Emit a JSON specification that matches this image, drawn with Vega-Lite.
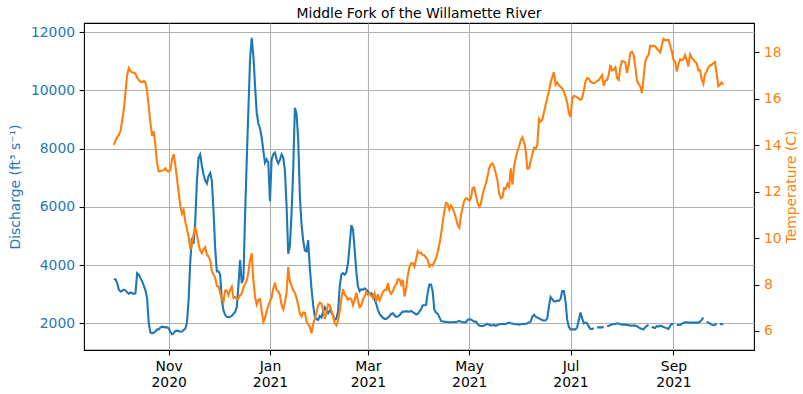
{
 "$schema": "https://vega.github.io/schema/vega-lite/v6.json",
 "width": 670, "height": 327,
 "autosize": {"type": "none"},
 "padding": {"left": 84, "top": 23, "right": 49, "bottom": 44},
 "background": "white",
 "config": {
   "font": "DejaVu Sans",
   "view": {"stroke": "black", "strokeWidth": 1.1},
   "axis": {"domain": false, "grid": false, "tickColor": "black", "tickSize": 4.9, "tickWidth": 1.1, "labelPadding": 4.5, "labelFontSize": 13.9, "titleFontSize": 13.9, "titleFontWeight": "normal", "gridColor": "#b0b0b0", "gridWidth": 1.1, "labelFont": "DejaVu Sans", "titleFont": "DejaVu Sans"},
   "title": {"fontSize": 13.9, "fontWeight": "normal", "font": "DejaVu Sans", "color": "black"}
 },
 "title": {"text": "Middle Fork of the Willamette River", "anchor": "middle", "offset": 5, "baseline": "alphabetic", "dy": 14},
 "data": {"values": [
{"date":"2020-09-29","q":3520,"t":14.02},{"date":"2020-09-30","q":3505,"t":14.21},{"date":"2020-10-01","q":3380,"t":14.35},{"date":"2020-10-02","q":3150,"t":14.44},{"date":"2020-10-03","q":3090,"t":14.62},{"date":"2020-10-04","q":3115,"t":15.07},{"date":"2020-10-05","q":3150,"t":15.56},{"date":"2020-10-06","q":3130,"t":16.28},{"date":"2020-10-07","q":3060,"t":17.04},{"date":"2020-10-08","q":3010,"t":17.33},{"date":"2020-10-09","q":3060,"t":17.2},{"date":"2020-10-10","q":3030,"t":17.14},{"date":"2020-10-11","q":3010,"t":17.14},{"date":"2020-10-12","q":3030,"t":17.08},{"date":"2020-10-13","q":3720,"t":16.91},{"date":"2020-10-14","q":3670,"t":16.82},{"date":"2020-10-15","q":3550,"t":16.74},{"date":"2020-10-16","q":3440,"t":16.72},{"date":"2020-10-17","q":3290,"t":16.77},{"date":"2020-10-18","q":3130,"t":16.71},{"date":"2020-10-19","q":2860,"t":16.32},{"date":"2020-10-20","q":2000,"t":15.67},{"date":"2020-10-21","q":1680,"t":14.96},{"date":"2020-10-22","q":1655,"t":14.41},{"date":"2020-10-23","q":1680,"t":14.6},{"date":"2020-10-24","q":1710,"t":14.0},{"date":"2020-10-25","q":1790,"t":13.23},{"date":"2020-10-26","q":1790,"t":12.87},{"date":"2020-10-27","q":1850,"t":12.89},{"date":"2020-10-28","q":1885,"t":12.91},{"date":"2020-10-29","q":1875,"t":12.93},{"date":"2020-10-30","q":1860,"t":13.01},{"date":"2020-10-31","q":1860,"t":12.91},
{"date":"2020-11-01","q":1830,"t":12.87},{"date":"2020-11-02","q":1710,"t":12.94},{"date":"2020-11-03","q":1620,"t":13.37},{"date":"2020-11-04","q":1655,"t":13.62},{"date":"2020-11-05","q":1735,"t":13.16},{"date":"2020-11-06","q":1747,"t":12.58},{"date":"2020-11-07","q":1735,"t":11.97},{"date":"2020-11-08","q":1710,"t":11.39},{"date":"2020-11-09","q":1720,"t":11.05},{"date":"2020-11-10","q":1770,"t":11.22},{"date":"2020-11-11","q":1815,"t":10.71},{"date":"2020-11-12","q":2030,"t":10.38},{"date":"2020-11-13","q":2800,"t":10.07},{"date":"2020-11-14","q":4130,"t":9.52},{"date":"2020-11-15","q":4930,"t":9.71},{"date":"2020-11-16","q":4730,"t":10.18},{"date":"2020-11-17","q":5500,"t":10.47},{"date":"2020-11-18","q":6880,"t":10.17},{"date":"2020-11-19","q":7690,"t":9.75},{"date":"2020-11-20","q":7800,"t":9.46},{"date":"2020-11-21","q":7400,"t":9.35},{"date":"2020-11-22","q":7110,"t":9.52},{"date":"2020-11-23","q":6905,"t":9.61},{"date":"2020-11-24","q":6800,"t":9.28},{"date":"2020-11-25","q":7055,"t":9.21},{"date":"2020-11-26","q":7160,"t":9.05},{"date":"2020-11-27","q":6900,"t":8.58},{"date":"2020-11-28","q":5850,"t":8.43},{"date":"2020-11-29","q":4580,"t":8.29},{"date":"2020-11-30","q":3780,"t":7.94},
{"date":"2020-12-01","q":3780,"t":7.91},{"date":"2020-12-02","q":3670,"t":7.65},{"date":"2020-12-03","q":2800,"t":7.37},{"date":"2020-12-04","q":2440,"t":7.26},{"date":"2020-12-05","q":2290,"t":7.74},{"date":"2020-12-06","q":2220,"t":7.74},{"date":"2020-12-07","q":2210,"t":7.54},{"date":"2020-12-08","q":2220,"t":7.77},{"date":"2020-12-09","q":2250,"t":7.91},{"date":"2020-12-10","q":2320,"t":7.42},{"date":"2020-12-11","q":2390,"t":7.47},{"date":"2020-12-12","q":2550,"t":7.37},{"date":"2020-12-13","q":3300,"t":7.39},{"date":"2020-12-14","q":4180,"t":7.54},{"date":"2020-12-15","q":3380,"t":7.61},{"date":"2020-12-16","q":3530,"t":7.87},{"date":"2020-12-17","q":5680,"t":8.03},{"date":"2020-12-18","q":7570,"t":8.17},{"date":"2020-12-19","q":9320,"t":8.52},{"date":"2020-12-20","q":11050,"t":9.06},{"date":"2020-12-21","q":11800,"t":9.35},{"date":"2020-12-22","q":11190,"t":8.2},{"date":"2020-12-23","q":10160,"t":7.48},{"date":"2020-12-24","q":9240,"t":7.14},{"date":"2020-12-25","q":8860,"t":7.34},{"date":"2020-12-26","q":8690,"t":7.37},{"date":"2020-12-27","q":8380,"t":6.88},{"date":"2020-12-28","q":7920,"t":6.39},{"date":"2020-12-29","q":7515,"t":6.56},{"date":"2020-12-30","q":7630,"t":6.85},{"date":"2020-12-31","q":7515,"t":7.08},
{"date":"2021-01-01","q":6190,"t":7.29},{"date":"2021-01-02","q":7630,"t":7.45},{"date":"2021-01-03","q":7800,"t":7.83},{"date":"2021-01-04","q":7860,"t":8.08},{"date":"2021-01-05","q":7630,"t":7.75},{"date":"2021-01-06","q":7490,"t":7.71},{"date":"2021-01-07","q":7610,"t":7.55},{"date":"2021-01-08","q":7800,"t":7.12},{"date":"2021-01-09","q":7690,"t":6.93},{"date":"2021-01-10","q":7230,"t":7.22},{"date":"2021-01-11","q":6020,"t":7.65},{"date":"2021-01-12","q":4390,"t":8.75},{"date":"2021-01-13","q":4640,"t":8.13},{"date":"2021-01-14","q":5790,"t":7.94},{"date":"2021-01-15","q":7290,"t":7.74},{"date":"2021-01-16","q":9400,"t":7.65},{"date":"2021-01-17","q":9200,"t":7.41},{"date":"2021-01-18","q":8320,"t":7.12},{"date":"2021-01-19","q":6370,"t":6.76},{"date":"2021-01-20","q":5390,"t":6.62},{"date":"2021-01-21","q":4850,"t":6.8},{"date":"2021-01-22","q":4500,"t":6.78},{"date":"2021-01-23","q":4470,"t":6.4},{"date":"2021-01-24","q":4850,"t":6.3},{"date":"2021-01-25","q":3900,"t":6.16},{"date":"2021-01-26","q":3200,"t":5.9},{"date":"2021-01-27","q":2630,"t":6.3},{"date":"2021-01-28","q":2230,"t":6.53},{"date":"2021-01-29","q":2140,"t":6.8},{"date":"2021-01-30","q":2115,"t":7.1},{"date":"2021-01-31","q":2250,"t":7.22},
{"date":"2021-02-01","q":2195,"t":7.18},{"date":"2021-02-02","q":2400,"t":6.93},{"date":"2021-02-03","q":2550,"t":6.52},{"date":"2021-02-04","q":2440,"t":6.79},{"date":"2021-02-05","q":2345,"t":7.15},{"date":"2021-02-06","q":2440,"t":7.11},{"date":"2021-02-07","q":2380,"t":6.86},{"date":"2021-02-08","q":2260,"t":6.68},{"date":"2021-02-09","q":2115,"t":6.33},{"date":"2021-02-10","q":2160,"t":6.24},{"date":"2021-02-11","q":2400,"t":6.45},{"date":"2021-02-12","q":3260,"t":6.86},{"date":"2021-02-13","q":3670,"t":7.37},{"date":"2021-02-14","q":3720,"t":7.8},{"date":"2021-02-15","q":3670,"t":7.58},{"date":"2021-02-16","q":3750,"t":7.48},{"date":"2021-02-17","q":4070,"t":7.34},{"date":"2021-02-18","q":4700,"t":7.41},{"date":"2021-02-19","q":5370,"t":7.38},{"date":"2021-02-20","q":5220,"t":7.11},{"date":"2021-02-21","q":4530,"t":7.34},{"date":"2021-02-22","q":3780,"t":7.65},{"date":"2021-02-23","q":3260,"t":7.32},{"date":"2021-02-24","q":3100,"t":7.03},{"date":"2021-02-25","q":3170,"t":7.09},{"date":"2021-02-26","q":3150,"t":7.35},{"date":"2021-02-27","q":3200,"t":7.49},{"date":"2021-02-28","q":3150,"t":7.67},
{"date":"2021-03-01","q":3090,"t":7.57},{"date":"2021-03-02","q":3010,"t":7.62},{"date":"2021-03-03","q":3030,"t":7.51},{"date":"2021-03-04","q":2970,"t":7.41},{"date":"2021-03-05","q":2800,"t":7.62},{"date":"2021-03-06","q":2670,"t":7.26},{"date":"2021-03-07","q":2460,"t":7.58},{"date":"2021-03-08","q":2320,"t":7.32},{"date":"2021-03-09","q":2250,"t":7.48},{"date":"2021-03-10","q":2195,"t":7.68},{"date":"2021-03-11","q":2150,"t":7.77},{"date":"2021-03-12","q":2150,"t":7.77},{"date":"2021-03-13","q":2195,"t":8.06},{"date":"2021-03-14","q":2250,"t":7.71},{"date":"2021-03-15","q":2320,"t":7.6},{"date":"2021-03-16","q":2345,"t":7.71},{"date":"2021-03-17","q":2275,"t":7.91},{"date":"2021-03-18","q":2220,"t":8.0},{"date":"2021-03-19","q":2230,"t":8.23},{"date":"2021-03-20","q":2275,"t":8.23},{"date":"2021-03-21","q":2345,"t":8.0},{"date":"2021-03-22","q":2400,"t":8.2},{"date":"2021-03-23","q":2400,"t":7.48},{"date":"2021-03-24","q":2415,"t":7.84},{"date":"2021-03-25","q":2400,"t":8.39},{"date":"2021-03-26","q":2400,"t":8.75},{"date":"2021-03-27","q":2425,"t":8.92},{"date":"2021-03-28","q":2380,"t":8.92},{"date":"2021-03-29","q":2345,"t":8.77},{"date":"2021-03-30","q":2300,"t":9.09},{"date":"2021-03-31","q":2320,"t":9.44},
{"date":"2021-04-01","q":2400,"t":9.35},{"date":"2021-04-02","q":2480,"t":9.37},{"date":"2021-04-03","q":2620,"t":9.27},{"date":"2021-04-04","q":2620,"t":9.25},{"date":"2021-04-05","q":2630,"t":9.16},{"date":"2021-04-06","q":3060,"t":9.06},{"date":"2021-04-07","q":3330,"t":8.77},{"date":"2021-04-08","q":3330,"t":8.85},{"date":"2021-04-09","q":3090,"t":8.82},{"date":"2021-04-10","q":2460,"t":8.99},{"date":"2021-04-11","q":2370,"t":9.13},{"date":"2021-04-12","q":2330,"t":9.39},{"date":"2021-04-13","q":2210,"t":9.75},{"date":"2021-04-14","q":2080,"t":10.14},{"date":"2021-04-15","q":2060,"t":10.67},{"date":"2021-04-16","q":2057,"t":11.15},{"date":"2021-04-17","q":2045,"t":11.52},{"date":"2021-04-18","q":2045,"t":11.48},{"date":"2021-04-19","q":2034,"t":11.22},{"date":"2021-04-20","q":2034,"t":11.4},{"date":"2021-04-21","q":2034,"t":11.29},{"date":"2021-04-22","q":2045,"t":11.1},{"date":"2021-04-23","q":2045,"t":10.86},{"date":"2021-04-24","q":2057,"t":10.57},{"date":"2021-04-25","q":2080,"t":10.45},{"date":"2021-04-26","q":2057,"t":10.96},{"date":"2021-04-27","q":2034,"t":11.32},{"date":"2021-04-28","q":2034,"t":11.61},{"date":"2021-04-29","q":2034,"t":11.72},{"date":"2021-04-30","q":2115,"t":11.69},
{"date":"2021-05-01","q":2138,"t":11.62},{"date":"2021-05-02","q":2126,"t":11.72},{"date":"2021-05-03","q":2092,"t":12.15},{"date":"2021-05-04","q":2057,"t":12.18},{"date":"2021-05-05","q":2057,"t":11.86},{"date":"2021-05-06","q":1977,"t":11.53},{"date":"2021-05-07","q":1920,"t":11.35},{"date":"2021-05-08","q":1908,"t":11.48},{"date":"2021-05-09","q":1908,"t":11.86},{"date":"2021-05-10","q":1920,"t":12.14},{"date":"2021-05-11","q":1954,"t":12.34},{"date":"2021-05-12","q":1977,"t":12.66},{"date":"2021-05-13","q":1954,"t":13.01},{"date":"2021-05-14","q":1920,"t":13.17},{"date":"2021-05-15","q":1931,"t":13.22},{"date":"2021-05-16","q":1943,"t":13.06},{"date":"2021-05-17","q":1908,"t":12.8},{"date":"2021-05-18","q":1943,"t":12.48},{"date":"2021-05-19","q":1966,"t":11.94},{"date":"2021-05-20","q":1977,"t":11.72},{"date":"2021-05-21","q":1977,"t":11.76},{"date":"2021-05-22","q":1966,"t":12.15},{"date":"2021-05-23","q":1977,"t":12.12},{"date":"2021-05-24","q":2000,"t":12.34},{"date":"2021-05-25","q":2023,"t":12.22},{"date":"2021-05-26","q":2000,"t":13.01},{"date":"2021-05-27","q":1989,"t":12.3},{"date":"2021-05-28","q":1977,"t":13.09},{"date":"2021-05-29","q":1966,"t":13.45},{"date":"2021-05-30","q":1966,"t":13.73},{"date":"2021-05-31","q":1954,"t":13.95},
{"date":"2021-06-01","q":1966,"t":14.21},{"date":"2021-06-02","q":1977,"t":14.34},{"date":"2021-06-03","q":1977,"t":14.14},{"date":"2021-06-04","q":1977,"t":13.8},{"date":"2021-06-05","q":2000,"t":12.99},{"date":"2021-06-06","q":2023,"t":13.01},{"date":"2021-06-07","q":2057,"t":13.3},{"date":"2021-06-08","q":2230,"t":13.63},{"date":"2021-06-09","q":2290,"t":13.89},{"date":"2021-06-10","q":2230,"t":13.85},{"date":"2021-06-11","q":2195,"t":14.02},{"date":"2021-06-12","q":2170,"t":15.13},{"date":"2021-06-13","q":2140,"t":15.03},{"date":"2021-06-14","q":2115,"t":15.1},{"date":"2021-06-15","q":2090,"t":15.42},{"date":"2021-06-16","q":2100,"t":15.73},{"date":"2021-06-17","q":2170,"t":16.06},{"date":"2021-06-18","q":2575,"t":16.32},{"date":"2021-06-19","q":2900,"t":16.68},{"date":"2021-06-20","q":2830,"t":16.95},{"date":"2021-06-21","q":2750,"t":17.15},{"date":"2021-06-22","q":2750,"t":16.61},{"date":"2021-06-23","q":2780,"t":16.71},{"date":"2021-06-24","q":2770,"t":16.58},{"date":"2021-06-25","q":2840,"t":16.52},{"date":"2021-06-26","q":3110,"t":16.44},{"date":"2021-06-27","q":3110,"t":16.32},{"date":"2021-06-28","q":2750,"t":16.1},{"date":"2021-06-29","q":2115,"t":15.85},{"date":"2021-06-30","q":1875,"t":15.39},
{"date":"2021-07-01","q":1790,"t":15.21},{"date":"2021-07-02","q":1790,"t":15.99},{"date":"2021-07-03","q":1790,"t":16.13},{"date":"2021-07-04","q":1790,"t":16.1},{"date":"2021-07-05","q":1860,"t":16.06},{"date":"2021-07-06","q":2115,"t":16.02},{"date":"2021-07-07","q":2370,"t":15.96},{"date":"2021-07-08","q":2170,"t":16.03},{"date":"2021-07-09","q":2000,"t":16.36},{"date":"2021-07-10","q":2023,"t":16.75},{"date":"2021-07-11","q":2000,"t":16.9},{"date":"2021-07-12","q":1885,"t":16.87},{"date":"2021-07-13","q":1805,"t":16.74},{"date":"2021-07-14","q":1805,"t":16.71},{"date":"2021-07-15","q":1828,"t":16.68},{"date":"2021-07-16","q":null,"t":16.7},{"date":"2021-07-17","q":1860,"t":16.77},{"date":"2021-07-18","q":1860,"t":16.81},{"date":"2021-07-19","q":1860,"t":16.92},{"date":"2021-07-20","q":1860,"t":17.02},{"date":"2021-07-21","q":1875,"t":16.56},{"date":"2021-07-22","q":null,"t":16.79},{"date":"2021-07-23","q":1908,"t":16.81},{"date":"2021-07-24","q":1908,"t":17.04},{"date":"2021-07-25","q":1943,"t":17.46},{"date":"2021-07-26","q":1954,"t":17.23},{"date":"2021-07-27","q":1977,"t":17.25},{"date":"2021-07-28","q":1977,"t":17.36},{"date":"2021-07-29","q":2000,"t":16.9},{"date":"2021-07-30","q":1989,"t":16.82},{"date":"2021-07-31","q":1966,"t":17.37},
{"date":"2021-08-01","q":1954,"t":17.63},{"date":"2021-08-02","q":1954,"t":17.61},{"date":"2021-08-03","q":1954,"t":17.57},{"date":"2021-08-04","q":1943,"t":17.11},{"date":"2021-08-05","q":1931,"t":17.47},{"date":"2021-08-06","q":1920,"t":17.97},{"date":"2021-08-07","q":1920,"t":18.03},{"date":"2021-08-08","q":1920,"t":17.9},{"date":"2021-08-09","q":1920,"t":17.4},{"date":"2021-08-10","q":1897,"t":16.79},{"date":"2021-08-11","q":1862,"t":16.65},{"date":"2021-08-12","q":1828,"t":16.54},{"date":"2021-08-13","q":1805,"t":16.25},{"date":"2021-08-14","q":1793,"t":16.92},{"date":"2021-08-15","q":1862,"t":17.61},{"date":"2021-08-16","q":1908,"t":17.8},{"date":"2021-08-17","q":1943,"t":17.9},{"date":"2021-08-18","q":null,"t":18.29},{"date":"2021-08-19","q":1885,"t":18.26},{"date":"2021-08-20","q":1850,"t":18.29},{"date":"2021-08-21","q":1840,"t":18.26},{"date":"2021-08-22","q":1908,"t":18.17},{"date":"2021-08-23","q":1885,"t":18.09},{"date":"2021-08-24","q":1920,"t":18.0},{"date":"2021-08-25","q":1897,"t":18.32},{"date":"2021-08-26","q":1875,"t":18.59},{"date":"2021-08-27","q":1850,"t":18.53},{"date":"2021-08-28","q":1828,"t":18.53},{"date":"2021-08-29","q":1805,"t":18.55},{"date":"2021-08-30","q":1908,"t":18.3},{"date":"2021-08-31","q":1977,"t":18.06},
{"date":"2021-09-01","q":1966,"t":17.69},{"date":"2021-09-02","q":null,"t":17.61},{"date":"2021-09-03","q":1943,"t":17.18},{"date":"2021-09-04","q":1943,"t":17.5},{"date":"2021-09-05","q":1943,"t":17.71},{"date":"2021-09-06","q":1977,"t":17.67},{"date":"2021-09-07","q":2011,"t":17.71},{"date":"2021-09-08","q":2034,"t":17.89},{"date":"2021-09-09","q":2034,"t":17.67},{"date":"2021-09-10","q":2023,"t":17.4},{"date":"2021-09-11","q":2023,"t":17.92},{"date":"2021-09-12","q":2023,"t":17.77},{"date":"2021-09-13","q":2023,"t":17.7},{"date":"2021-09-14","q":2023,"t":17.59},{"date":"2021-09-15","q":2023,"t":17.54},{"date":"2021-09-16","q":2023,"t":17.23},{"date":"2021-09-17","q":2057,"t":17.23},{"date":"2021-09-18","q":2115,"t":16.85},{"date":"2021-09-19","q":2195,"t":16.65},{"date":"2021-09-20","q":null,"t":17.08},{"date":"2021-09-21","q":2057,"t":17.18},{"date":"2021-09-22","q":2023,"t":17.36},{"date":"2021-09-23","q":1989,"t":17.44},{"date":"2021-09-24","q":1954,"t":17.47},{"date":"2021-09-25","q":1931,"t":17.54},{"date":"2021-09-26","q":1943,"t":17.59},{"date":"2021-09-27","q":2000,"t":17.1},{"date":"2021-09-28","q":null,"t":16.55},{"date":"2021-09-29","q":1977,"t":16.61},{"date":"2021-09-30","q":1966,"t":16.71},{"date":"2021-10-01","q":1966,"t":16.62}
 ]},
 "encoding": {
   "x": {"field": "date", "type": "temporal",
     "scale": {"type": "utc", "domain": [{"year": 2020, "month": 9, "date": 11, "utc": true}, {"year": 2021, "month": 10, "date": 19, "hours": 12, "utc": true}]},
     "axis": {"title": null, "grid": true, "labelColor": "black", "labelLineHeight": 16,
       "values": [{"year": 2020, "month": 11, "date": 1, "utc": true}, {"year": 2021, "month": 1, "date": 1, "utc": true}, {"year": 2021, "month": 3, "date": 1, "utc": true}, {"year": 2021, "month": 5, "date": 1, "utc": true}, {"year": 2021, "month": 7, "date": 1, "utc": true}, {"year": 2021, "month": 9, "date": 1, "utc": true}],
       "labelExpr": "[utcFormat(datum.value, '%b'), utcFormat(datum.value, '%Y')]"}}
 },
 "layer": [
   {"mark": {"type": "line", "color": "#1f77b4", "strokeWidth": 2.1, "invalid": "break-paths-filter-domains", "clip": true},
    "encoding": {"y": {"field": "q", "type": "quantitative",
      "scale": {"domain": [1082, 12310], "nice": false, "zero": false},
      "axis": {"orient": "left", "values": [2000, 4000, 6000, 8000, 10000, 12000], "format": "d", "grid": true, "title": "Discharge (ft³ s⁻¹)", "titleColor": "#1f77b4", "labelColor": "#1f77b4", "titlePadding": 8}}}},
   {"mark": {"type": "line", "color": "#ff7f0e", "strokeWidth": 2.1, "clip": true},
    "encoding": {"y": {"field": "t", "type": "quantitative",
      "scale": {"domain": [5.18, 19.27], "nice": false, "zero": false},
      "axis": {"orient": "right", "values": [6, 8, 10, 12, 14, 16, 18], "format": "d", "grid": false, "title": "Temperature (C)", "titleColor": "#ff7f0e", "labelColor": "#ff7f0e", "titleAngle": 270, "titleBaseline": "top", "titlePadding": 3}}}}
 ],
 "resolve": {"scale": {"y": "independent"}, "axis": {"y": "independent"}}
}
